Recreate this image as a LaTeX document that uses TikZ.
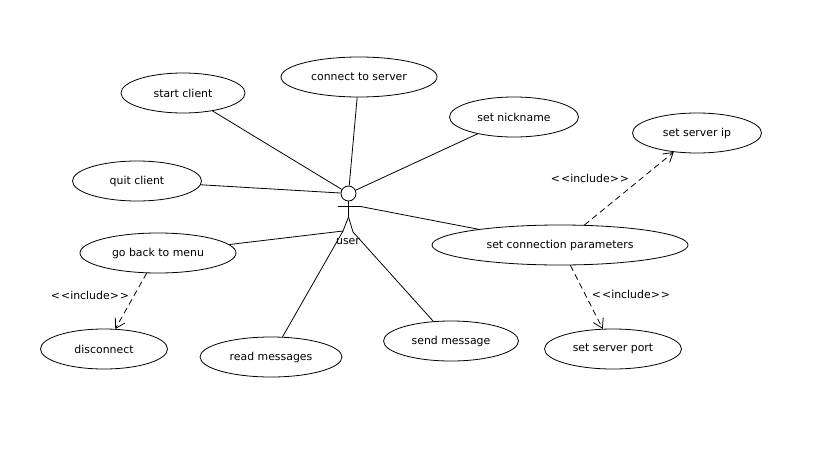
\documentclass[tikz,border=0pt]{standalone}
\usepackage{fontspec}
\setmainfont{DejaVu Sans}
\usetikzlibrary{arrows.meta,shapes.geometric}

\begin{document}
\begin{tikzpicture}[x=1pt,y=-1pt,line width=0.8pt,font=\fontsize{10.9}{13}\selectfont]
      \tikzstyle{usecase}=[ellipse,draw,inner sep=0pt,minimum height=40pt]
      \useasboundingbox (0,0) rectangle (834,452);

      \node[usecase,minimum width=124pt] (start)   at (183,93)  {start client};
      \node[usecase,minimum width=156pt] (connect) at (359,77)  {connect to server};
      \node[usecase,minimum width=129pt] (nick)    at (514,117) {set nickname};
      \node[usecase,minimum width=129pt] (ip)      at (697,133) {set server ip};
      \node[usecase,minimum width=129pt] (quit)    at (137,181) {quit client};
      \node[usecase,minimum width=156pt] (menu)    at (158,253) {go back to menu};
      \node[usecase,minimum width=256pt] (params)  at (560,245) {set connection parameters};
      \node[usecase,minimum width=127pt] (disc)    at (104,349) {disconnect};
      \node[usecase,minimum width=142pt] (read)    at (271,357) {read messages};
      \node[usecase,minimum width=135pt] (send)    at (451,341) {send message};
      \node[usecase,minimum width=137pt] (port)    at (613,349) {set server port};

      % the actor
      \node[circle,draw,inner sep=0pt,minimum size=15pt] (head) at (348.5,193.5) {};
      \coordinate (hip)  at (348.5,217);
      \coordinate (armL) at (338,206.5);
      \coordinate (armR) at (360.5,206.5);
      \coordinate (legL) at (343,231);
      \coordinate (legR) at (353,232);
      \node (user) at (348,241.5) {user};

      \draw (head) -- (hip);
      \draw (armL) -- (armR);
      \draw (hip) -- (legL);
      \draw (hip) -- (legR);

      \tikzstyle{inc}=[-{Straight Barb[length=9pt,width=11pt]},dashed,dash pattern=on 6pt off 4pt]

      \draw (start) -- (head);
      \draw (connect) -- (head);
      \draw (nick) -- (head);
      \draw (quit) -- (head);
      \draw (params) -- (armR);
      \draw (menu) -- (legL);
      \draw (read) -- (legL);
      \draw (send) -- (legR);

      \draw[inc] (params) -- (ip);
      \draw[inc] (params) -- (port);
      \draw[inc] (menu) -- (disc);

      \node (incip)   at (590,178) {<\kern1pt<include>\kern1pt>};
      \node (incport) at (631,294) {<\kern1pt<include>\kern1pt>};
      \node (incdisc) at (90,295)  {<\kern1pt<include>\kern1pt>};
\end{tikzpicture}
\end{document}
